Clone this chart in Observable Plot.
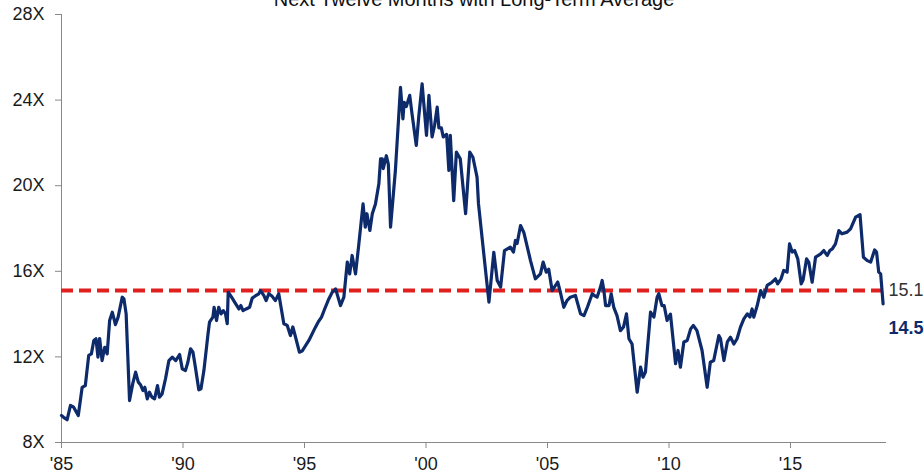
<!DOCTYPE html>
<html>
<head>
<meta charset="utf-8">
<script src="https://cdn.jsdelivr.net/npm/d3@7"></script>
<script src="https://cdn.jsdelivr.net/npm/@observablehq/plot@0.6"></script>
<style>
  html, body { margin: 0; padding: 0; background: #fff; overflow: hidden; }
  #wrap { position: relative; width: 924px; height: 475px; font-family: "Liberation Sans", Arial, sans-serif; }
  #title { position: absolute; top: -11px; left: 0; width: 948px; text-align: center; font-size: 20px; line-height: 20px; color: #111; }
</style>
</head>
<body>
<div id="wrap">
  <div id="title">Next Twelve Months with Long-Term Average</div>
  <div id="chart"></div>
</div>
<script>
const titleText = "Next Twelve Months with Long-Term Average";
const yearTicks = [1985, 1990, 1995, 2000, 2005, 2010, 2015];
const yearTickLabels = ["'85", "'90", "'95", "'00", "'05", "'10", "'15"];
const peTicks = [8, 12, 16, 20, 24, 28];
const longTermAverage = 15.1;
const latestValue = 14.5;

const years = [
1985.00,1985.12,1985.23,1985.37,1985.50,1985.69,1985.85,1985.98,1986.12,1986.23,1986.33,1986.42,1986.50,1986.57,1986.67,1986.78,1986.88,1986.98,
1987.09,1987.22,1987.33,1987.50,1987.57,1987.66,1987.80,1987.93,1988.05,1988.16,1988.25,1988.35,1988.43,1988.53,1988.62,1988.72,1988.83,1988.95,
1989.03,1989.14,1989.28,1989.42,1989.56,1989.70,1989.86,1989.97,1990.10,1990.20,1990.31,1990.41,1990.51,1990.65,1990.74,1990.86,1991.03,1991.09,
1991.23,1991.28,1991.38,1991.47,1991.57,1991.66,1991.75,1991.82,1991.86,1992.00,1992.13,1992.30,1992.38,1992.47,1992.60,1992.74,1992.85,1992.99,
1993.12,1993.19,1993.33,1993.42,1993.53,1993.67,1993.80,1993.94,1994.15,1994.29,1994.42,1994.52,1994.63,1994.79,1994.90,1995.18,1995.45,1995.56,
1995.70,1995.83,1996.00,1996.14,1996.28,1996.48,1996.62,1996.76,1996.86,1996.96,1997.10,1997.23,1997.41,1997.50,1997.57,1997.69,1997.79,1997.92,
1998.06,1998.13,1998.20,1998.24,1998.37,1998.45,1998.54,1998.74,1998.95,1999.05,1999.10,1999.19,1999.33,1999.42,1999.60,1999.70,1999.84,2000.02,
2000.12,2000.25,2000.35,2000.46,2000.53,2000.63,2000.71,2000.85,2000.94,2001.00,2001.14,2001.25,2001.41,2001.63,2001.80,2001.93,2002.10,2002.16,
2002.45,2002.59,2002.79,2002.93,2003.07,2003.23,2003.47,2003.60,2003.68,2003.75,2003.89,2004.03,2004.30,2004.50,2004.71,2004.82,2004.95,2005.05,
2005.19,2005.42,2005.53,2005.67,2005.80,2005.94,2006.15,2006.36,2006.50,2006.64,2006.84,2006.95,2007.04,2007.18,2007.25,2007.32,2007.39,2007.53,
2007.62,2007.73,2007.86,2008.00,2008.13,2008.25,2008.35,2008.48,2008.69,2008.83,2008.93,2009.03,2009.24,2009.38,2009.51,2009.58,2009.71,2009.80,
2009.92,2010.06,2010.27,2010.37,2010.47,2010.61,2010.75,2010.89,2011.00,2011.15,2011.36,2011.57,2011.70,2011.84,2012.05,2012.12,2012.26,2012.40,
2012.53,2012.67,2012.80,2012.94,2013.08,2013.22,2013.33,2013.42,2013.49,2013.63,2013.77,2013.90,2014.04,2014.24,2014.38,2014.47,2014.61,2014.72,
2014.86,2014.96,2015.07,2015.17,2015.30,2015.44,2015.52,2015.66,2015.75,2015.89,2016.03,2016.23,2016.37,2016.51,2016.62,2016.72,2016.85,2016.99,
2017.12,2017.33,2017.47,2017.68,2017.86,2018.00,2018.16,2018.30,2018.46,2018.54,2018.63,2018.71,2018.81
];
const peValues = [
9.26,9.15,9.06,9.73,9.65,9.26,10.58,10.66,12.07,12.14,12.77,12.85,11.99,12.86,11.83,12.45,12.14,13.70,
14.09,13.51,13.86,14.79,14.71,14.01,9.96,10.74,11.29,10.82,10.70,10.43,10.58,10.04,10.35,10.12,10.04,10.66,
10.12,10.27,10.98,11.83,11.99,11.83,12.11,11.44,11.36,11.75,12.38,12.22,11.52,10.46,10.51,11.36,13.08,13.62,
13.86,14.32,13.70,14.32,14.01,14.16,14.01,13.55,15.02,14.79,14.55,14.24,14.40,14.16,14.24,14.32,14.75,14.86,
14.95,15.10,14.86,14.63,14.95,14.83,14.63,14.95,13.55,13.47,13.00,13.40,12.93,12.22,12.27,12.77,13.39,13.62,
13.86,14.24,14.71,15.02,15.18,14.40,14.79,16.43,15.88,16.74,15.88,17.21,19.15,18.06,18.69,17.91,18.69,19.15,
20.09,21.26,21.26,20.80,21.40,21.00,18.06,20.71,24.60,23.12,23.90,23.70,24.22,23.40,21.88,23.20,24.76,22.35,
24.22,22.28,22.80,23.67,22.70,22.70,22.28,22.40,20.71,22.35,19.30,21.57,21.26,18.69,21.57,21.33,20.40,19.15,
16.04,14.56,16.89,15.57,15.26,16.97,17.13,16.90,17.44,17.30,18.14,17.80,16.50,15.65,15.88,16.43,15.96,16.10,
15.10,15.50,15.02,14.32,14.63,14.79,14.87,14.01,13.93,14.32,14.95,14.85,14.79,15.26,15.57,15.10,14.40,14.40,
14.95,14.30,13.93,13.23,13.40,14.01,12.85,12.60,10.35,11.52,11.05,11.29,14.09,13.86,14.79,14.95,14.40,14.40,
13.70,14.00,11.68,12.30,11.52,12.70,12.77,13.31,13.47,13.23,12.30,10.58,11.75,11.83,13.00,12.85,11.83,12.70,
12.92,12.60,12.85,13.39,13.78,14.01,13.86,14.24,13.86,14.40,15.10,14.79,15.34,15.49,15.65,15.41,15.65,16.04,
15.96,17.28,16.90,16.97,16.58,15.41,15.60,16.58,16.43,15.49,16.66,16.80,16.97,16.74,16.97,17.05,17.28,17.90,
17.75,17.83,17.98,18.53,18.65,16.66,16.50,16.43,17.00,16.90,15.96,15.88,14.48
];

const series = years.map((y, i) => ({year: y, pe: peValues[i]}));
const xEnd = 2018.95;
const lastYear = years[years.length - 1];

const chart = Plot.plot({
  width: 924,
  height: 475,
  marginLeft: 61,
  marginRight: 38,
  marginTop: 14,
  marginBottom: 33,
  style: {fontFamily: '"Liberation Sans", Arial, sans-serif', fontSize: "18px", color: "#1a1a1a", background: "#fff"},
  x: {domain: [1985, xEnd], axis: null},
  y: {domain: [8, 28], axis: null},
  marks: [
    Plot.axisY({ticks: peTicks, tickFormat: d => d + "X", tickSize: 6, tickPadding: 11, stroke: "#888", fontSize: 18, label: null}),
    Plot.axisX({ticks: yearTicks, tickFormat: d => yearTickLabels[yearTicks.indexOf(d)], tickSize: 6, tickPadding: 9, stroke: "#888", fontSize: 18, label: null}),
    Plot.ruleX([1985], {stroke: "#888", strokeWidth: 1}),
    Plot.ruleY([8], {stroke: "#888", strokeWidth: 1}),
    Plot.ruleY([longTermAverage], {x1: 1985, x2: lastYear, stroke: "#e0201e", strokeWidth: 4, strokeDasharray: "12,6"}),
    Plot.line(series, {x: "year", y: "pe", stroke: "#0d2a6b", strokeWidth: 3.2, strokeLinejoin: "round"}),
    Plot.text([longTermAverage], {x: xEnd, y: d => d, text: d => d.toFixed(1), textAnchor: "start", dx: 2, fill: "#333", fontSize: 18}),
    Plot.text([latestValue], {x: xEnd, y: d => d, text: d => d.toFixed(1), textAnchor: "start", dx: 2, dy: 25, fill: "#0d2a6b", fontWeight: "bold", fontSize: 18})
  ]
});
document.getElementById("chart").appendChild(chart);
</script>
</body>
</html>
